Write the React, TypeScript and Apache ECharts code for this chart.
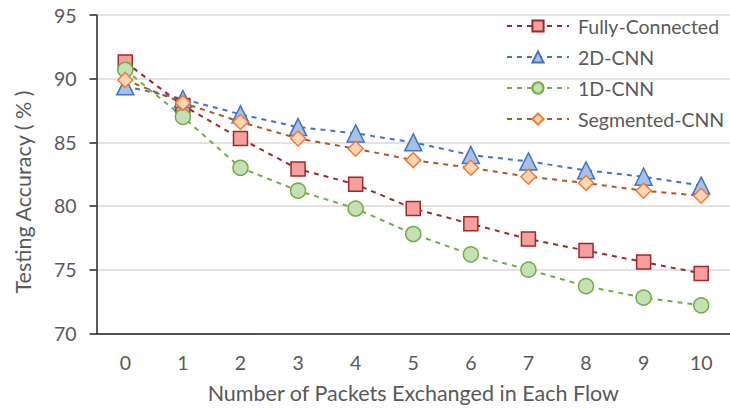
import React, { useEffect, useRef } from "react";
import * as echarts from "echarts";

const categories = ["0", "1", "2", "3", "4", "5", "6", "7", "8", "9", "10"];
const fullyConnected = [91.3, 87.9, 85.3, 82.9, 81.7, 79.8, 78.6, 77.4, 76.5, 75.6, 74.7];
const cnn2d = [89.4, 88.4, 87.2, 86.2, 85.7, 85.0, 84.0, 83.5, 82.8, 82.3, 81.6];
const cnn1d = [90.7, 87.0, 83.0, 81.2, 79.8, 77.8, 76.2, 75.0, 73.7, 72.8, 72.2];
const segmented = [89.9, 88.1, 86.6, 85.3, 84.5, 83.6, 83.0, 82.3, 81.8, 81.2, 80.8];
const yTicks = [70, 75, 80, 85, 90, 95];

const FONT = "Lato, 'Open Sans', sans-serif";
const TXT = "#595959";

export default function App() {
  const ref = useRef<HTMLDivElement>(null);
  useEffect(() => {
    if (!ref.current) return;
    const chart = echarts.init(ref.current, null, { renderer: "svg" });
    const mk = (
      name: string,
      data: number[],
      symbol: string,
      size: number,
      line: string,
      fill: string,
      border: string
    ) => ({
      name,
      type: "line",
      data,
      symbol,
      symbolSize: size,
      showAllSymbol: true,
      lineStyle: { color: line, width: 2, type: [5, 5] },
      itemStyle: { color: fill, borderColor: border, borderWidth: 1.5 },
    });
    chart.setOption({
      animation: false,
      backgroundColor: "#ffffff",
      textStyle: { fontFamily: FONT },
      grid: { left: 96.5, right: -5.5, top: 15, bottom: 78.7, containLabel: false },
      legend: {
        orient: "vertical",
        left: 501,
        top: 11,
        itemWidth: 62,
        itemHeight: 14,
        itemGap: 11,
        textStyle: { color: TXT, fontSize: 19.5, fontFamily: FONT, padding: [0, 0, 0, 4] },
        data: ["Fully-Connected", "2D-CNN", "1D-CNN", "Segmented-CNN"],
      },
      xAxis: {
        type: "category",
        data: categories,
        boundaryGap: true,
        name: "Number of Packets Exchanged in Each Flow",
        nameLocation: "middle",
        nameGap: 49,
        nameTextStyle: { color: TXT, fontSize: 21.5, fontFamily: FONT },
        axisLine: { lineStyle: { color: "#262626", width: 1.5 } },
        axisTick: { alignWithLabel: true, length: 6, lineStyle: { color: "#262626", width: 1.5 } },
        axisLabel: { color: TXT, fontSize: 19.5, margin: 19, fontFamily: FONT },
        splitLine: { show: false },
      },
      yAxis: {
        type: "value",
        min: yTicks[0],
        max: yTicks[yTicks.length - 1],
        interval: 5,
        axisLine: { show: true, lineStyle: { color: "#262626", width: 1.5 } },
        axisTick: { show: true, length: 7, lineStyle: { color: "#262626", width: 1.5 } },
        axisLabel: { color: TXT, fontSize: 19.5, margin: 20, fontFamily: FONT },
        splitLine: { lineStyle: { color: "#d9d9d9", width: 1.5 } },
      },
      graphic: [
        {
          type: "text",
          x: 23,
          y: 192,
          rotation: Math.PI / 2,
          style: {
            text: "Testing Accuracy ( % )",
            fill: TXT,
            fontSize: 21.5,
            fontFamily: FONT,
            align: "center",
            verticalAlign: "middle",
          },
        },
      ],
      series: [
        mk("Fully-Connected", fullyConnected, "rect", 14, "#9c2a2c", "#f4a09c", "#a3262a"),
        mk("2D-CNN", cnn2d, "triangle", 17, "#4472c4", "#a9c0e6", "#4472c4"),
        mk("1D-CNN", cnn1d, "circle", 15, "#70ad47", "#c5e0b4", "#70ad47"),
        mk("Segmented-CNN", segmented, "diamond", 15, "#b4561c", "#fcd5b4", "#ed7d31"),
      ],
    });
    return () => chart.dispose();
  }, []);
  return <div ref={ref} style={{ width: 730, height: 412, position: "absolute", left: 0, top: 0 }} />;
}
